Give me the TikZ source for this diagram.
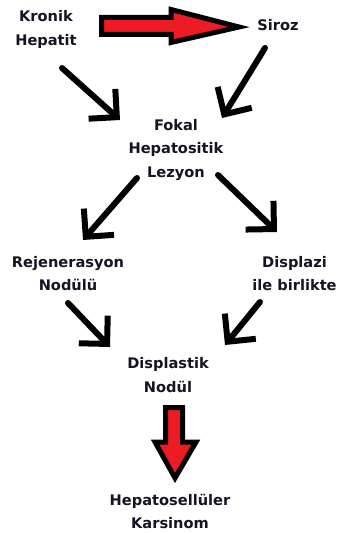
\documentclass[tikz,border=0pt]{standalone}
\usepackage{fontspec}
\setmainfont{DejaVu Sans}
\usetikzlibrary{arrows.meta}
\definecolor{txt}{RGB}{20,20,35}
\definecolor{pred}{RGB}{237,28,36}
\begin{document}
\begin{tikzpicture}[x=1pt,y=-1pt,
 lbl/.style={font=\bfseries\fontsize{14.6}{23.5}\selectfont, text=txt, align=center, inner sep=0pt},
 hand/.style={line width=6pt, line cap=round, line join=round, -{Straight Barb[length=20pt,width=40pt,line width=6pt]}},
 bigarrow/.style={fill=pred, draw=black, line width=5pt, line join=miter}]
\useasboundingbox (0,0) rectangle (339,534);
\fill[white] (0,0) rectangle (339,534);
% labels
\node[lbl] (kronik) at (46,29.5) {Kronik\\Hepatit};
\node[lbl] (siroz) at (278,25) {Siroz};
\node[lbl] (fokal) at (176,150) {Fokal\\Hepatositik\\Lezyon};
\node[lbl] (rej) at (68,273.5) {Rejenerasyon\\Nodülü};
\node[lbl] (disp) at (294.5,273.5) {Displazi\\ile birlikte};
\node[lbl] (dnod) at (168,375) {Displastik\\Nodül};
\node[lbl] (hcc) at (170,511.5) {Hepatosellüler\\Karsinom};
% big red arrows
\draw[bigarrow] (101.5,17.5) -- (171,17.5) -- (171,9.5) -- (239,27) -- (171,42.5) -- (171,34.5) -- (101.5,34.5) -- cycle;
\draw[bigarrow] (165.5,407.5) -- (182.5,407.5) -- (182.5,442) -- (196,442) -- (175,478) -- (155,442) -- (165.5,442) -- cycle;
% hand-drawn arrows
\coordinate (a1s) at (62,68);   \coordinate (a1e) at (120,120);
\coordinate (a2s) at (265,48);  \coordinate (a2e) at (222,118);
\coordinate (a3s) at (137,178); \coordinate (a3e) at (83,240);
\coordinate (a4s) at (218,175); \coordinate (a4e) at (277,232);
\coordinate (a5s) at (68,303);  \coordinate (a5e) at (110,347);
\coordinate (a6s) at (260,302); \coordinate (a6e) at (225,345);
\draw[hand] (a1s) -- (a1e);
\draw[hand] (a2s) -- (a2e);
\draw[hand] (a3s) -- (a3e);
\draw[hand] (a4s) -- (a4e);
\draw[hand] (a5s) -- (a5e);
\draw[hand] (a6s) -- (a6e);
\end{tikzpicture}
\end{document}
